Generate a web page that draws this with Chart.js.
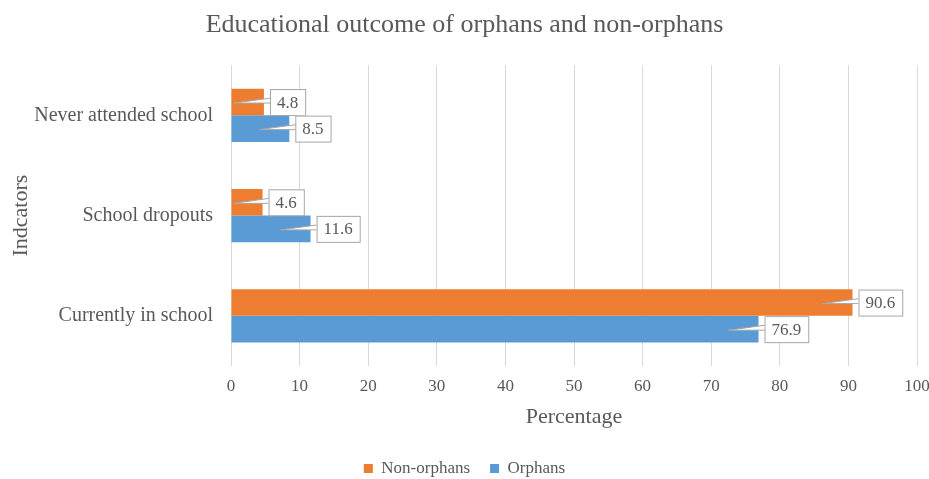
<!DOCTYPE html>
<html>
<head>
<meta charset="utf-8">
<script src="https://cdn.jsdelivr.net/npm/chart.js@4/dist/chart.umd.min.js"></script>
<style>
  html, body { margin: 0; padding: 0; background: #fff; }
  #wrap { width: 929px; height: 479px; }
</style>
</head>
<body>
<div id="wrap"><canvas id="chart"></canvas></div>
<script>
const categories = ['Never attended school', 'School dropouts', 'Currently in school'];
const nonOrphans = [4.8, 4.6, 90.6];
const orphans = [8.5, 11.6, 76.9];
const xTicks = [0, 10, 20, 30, 40, 50, 60, 70, 80, 90, 100];

const SERIF = '"Liberation Serif", "Times New Roman", serif';
const TEXT = '#595959';

// Excel-style callout labels: white box just past the bar end, with a thin
// wedge pointing back into the bar.
const calloutLabels = {
    id: 'calloutLabels',
    afterDatasetsDraw(chart) {
        const ctx = chart.ctx;
        ctx.save();
        ctx.font = '17px ' + SERIF;
        chart.data.datasets.forEach((ds, di) => {
            const meta = chart.getDatasetMeta(di);
            meta.data.forEach((bar, i) => {
                const txt = String(ds.data[i]);
                const w = ctx.measureText(txt).width + 14;
                const h = 26;
                const bx = bar.x + 6;
                const by = bar.y - h / 2;
                const px = Math.max(bar.base + 2, bar.x - 30);
                const py = bar.y + 1;

                ctx.fillStyle = '#fff';
                ctx.strokeStyle = '#a6a6a6';
                ctx.lineWidth = 1;
                // wedge
                ctx.beginPath();
                ctx.moveTo(px, py);
                ctx.lineTo(bx + 1, bar.y - 4);
                ctx.lineTo(bx + 1, bar.y + 1);
                ctx.closePath();
                ctx.fill();
                ctx.stroke();
                // box
                ctx.fillRect(bx, by, w, h);
                ctx.strokeRect(bx + 0.5, by + 0.5, w, h);

                ctx.fillStyle = TEXT;
                ctx.textAlign = 'center';
                ctx.textBaseline = 'middle';
                ctx.fillText(txt, bx + w / 2, bar.y + 1);
            });
        });
        ctx.restore();
    }
};

// nudge the legend row down toward the bottom edge
const legendNudge = {
    id: 'legendNudge',
    afterLayout(chart) {
        if (chart.legend) {
            chart.legend.top += 8;
            chart.legend.bottom += 8;
        }
    }
};

new Chart(document.getElementById('chart'), {
    type: 'bar',
    data: {
        labels: categories,
        datasets: [
            {
                label: 'Non-orphans',
                data: nonOrphans,
                backgroundColor: '#ED7D31',
                borderWidth: 0,
                categoryPercentage: 0.53,
                barPercentage: 1,
            },
            {
                label: 'Orphans',
                data: orphans,
                backgroundColor: '#5B9BD5',
                borderWidth: 0,
                categoryPercentage: 0.53,
                barPercentage: 1,
            },
        ],
    },
    plugins: [calloutLabels, legendNudge],
    options: {
        indexAxis: 'y',
        responsive: true,
        maintainAspectRatio: false,
        animation: false,
        layout: { padding: 0 },
        plugins: {
            title: {
                display: true,
                text: 'Educational outcome of orphans and non-orphans',
                color: TEXT,
                font: { family: SERIF, size: 26, weight: 'normal' },
                padding: { top: 10, bottom: 24 },
            },
            legend: {
                display: true,
                position: 'bottom',
                labels: {
                    color: TEXT,
                    font: { family: SERIF, size: 17 },
                    boxWidth: 9,
                    boxHeight: 9,
                    padding: 20,
                },
            },
            tooltip: { enabled: false },
        },
        scales: {
            x: {
                min: 0,
                max: 100,
                afterBuildTicks: (scale) => { scale.ticks = xTicks.map(v => ({ value: v })); },
                afterFit: (scale) => {
                    scale.paddingLeft = 0;
                    scale.paddingRight = 12;
                    scale.height = 66;
                },
                grid: { color: '#d9d9d9', drawTicks: false },
                border: { display: false },
                ticks: { color: TEXT, font: { family: SERIF, size: 17 }, padding: 10 },
                title: {
                    display: true,
                    text: 'Percentage',
                    color: TEXT,
                    font: { family: SERIF, size: 22 },
                    padding: { top: 0, bottom: 2 },
                },
            },
            y: {
                afterFit: (scale) => {
                    scale.width = 231;
                    scale.paddingTop = 0;
                    scale.paddingBottom = 0;
                },
                grid: { display: false },
                border: { display: false },
                ticks: { color: TEXT, font: { family: SERIF, size: 20 }, padding: 10 },
                title: {
                    display: true,
                    text: 'Indcators',
                    color: TEXT,
                    font: { family: SERIF, size: 22 },
                    padding: { top: 8, bottom: 0 },
                },
            },
        },
    },
});
</script>
</body>
</html>
